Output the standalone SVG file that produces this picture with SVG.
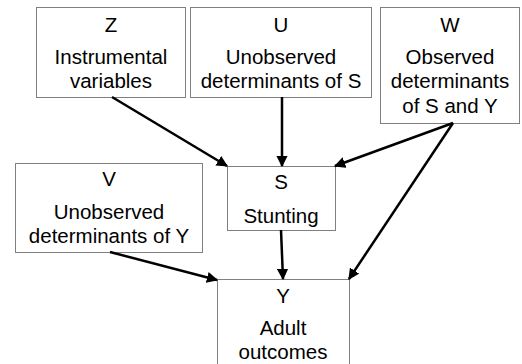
<svg xmlns="http://www.w3.org/2000/svg" width="522" height="364" viewBox="0 0 522 364">
<style>
.box{fill:#fff;stroke:#808080;stroke-width:1}
text{font-family:"Liberation Sans",Arial,sans-serif;font-size:20.5px;fill:#000;text-anchor:middle}
.edge{stroke:#000;stroke-width:2.5;fill:none;marker-end:url(#ah)}
</style>
<defs>
<marker id="ah" viewBox="0 0 10 10" refX="9" refY="5" markerWidth="4.5" markerHeight="4.5" orient="auto" markerUnits="strokeWidth">
<path d="M0,0 L10,5 L0,10 Z" fill="#000"/>
</marker>
</defs>
<rect width="522" height="364" fill="#fff"/>
<g id="Z">
<rect class="box" x="36.5" y="7.5" width="149" height="90"/>
<text x="111" y="32">Z</text>
<text x="111" y="64">Instrumental</text>
<text x="111" y="88">variables</text>
</g>
<g id="U">
<rect class="box" x="190.5" y="7.5" width="181" height="90"/>
<text x="281" y="32">U</text>
<text x="281" y="64">Unobserved</text>
<text x="281" y="88">determinants of S</text>
</g>
<g id="W">
<rect class="box" x="380.5" y="7.5" width="139" height="116"/>
<text x="450" y="32">W</text>
<text x="450" y="64">Observed</text>
<text x="450" y="88">determinants</text>
<text x="450" y="113">of S and Y</text>
</g>
<g id="V">
<rect class="box" x="15.5" y="163.5" width="187" height="89"/>
<text x="109" y="186">V</text>
<text x="109" y="219">Unobserved</text>
<text x="109" y="243">determinants of Y</text>
</g>
<g id="S">
<rect class="box" x="227.5" y="166.5" width="108" height="64"/>
<text x="281" y="189">S</text>
<text x="281" y="223">Stunting</text>
</g>
<g id="Y">
<rect class="box" x="217.5" y="279.5" width="132" height="100"/>
<text x="283" y="303">Y</text>
<text x="283" y="335">Adult</text>
<text x="283" y="359">outcomes</text>
</g>
<g id="connectors">
<line class="edge" x1="112" y1="97" x2="227" y2="166"/>
<line class="edge" x1="282" y1="97" x2="282" y2="166"/>
<line class="edge" x1="453" y1="123" x2="335" y2="166"/>
<line class="edge" x1="453" y1="123" x2="349" y2="279"/>
<line class="edge" x1="281" y1="230" x2="283" y2="279"/>
<line class="edge" x1="110" y1="252" x2="217" y2="280"/>
</g>
</svg>
